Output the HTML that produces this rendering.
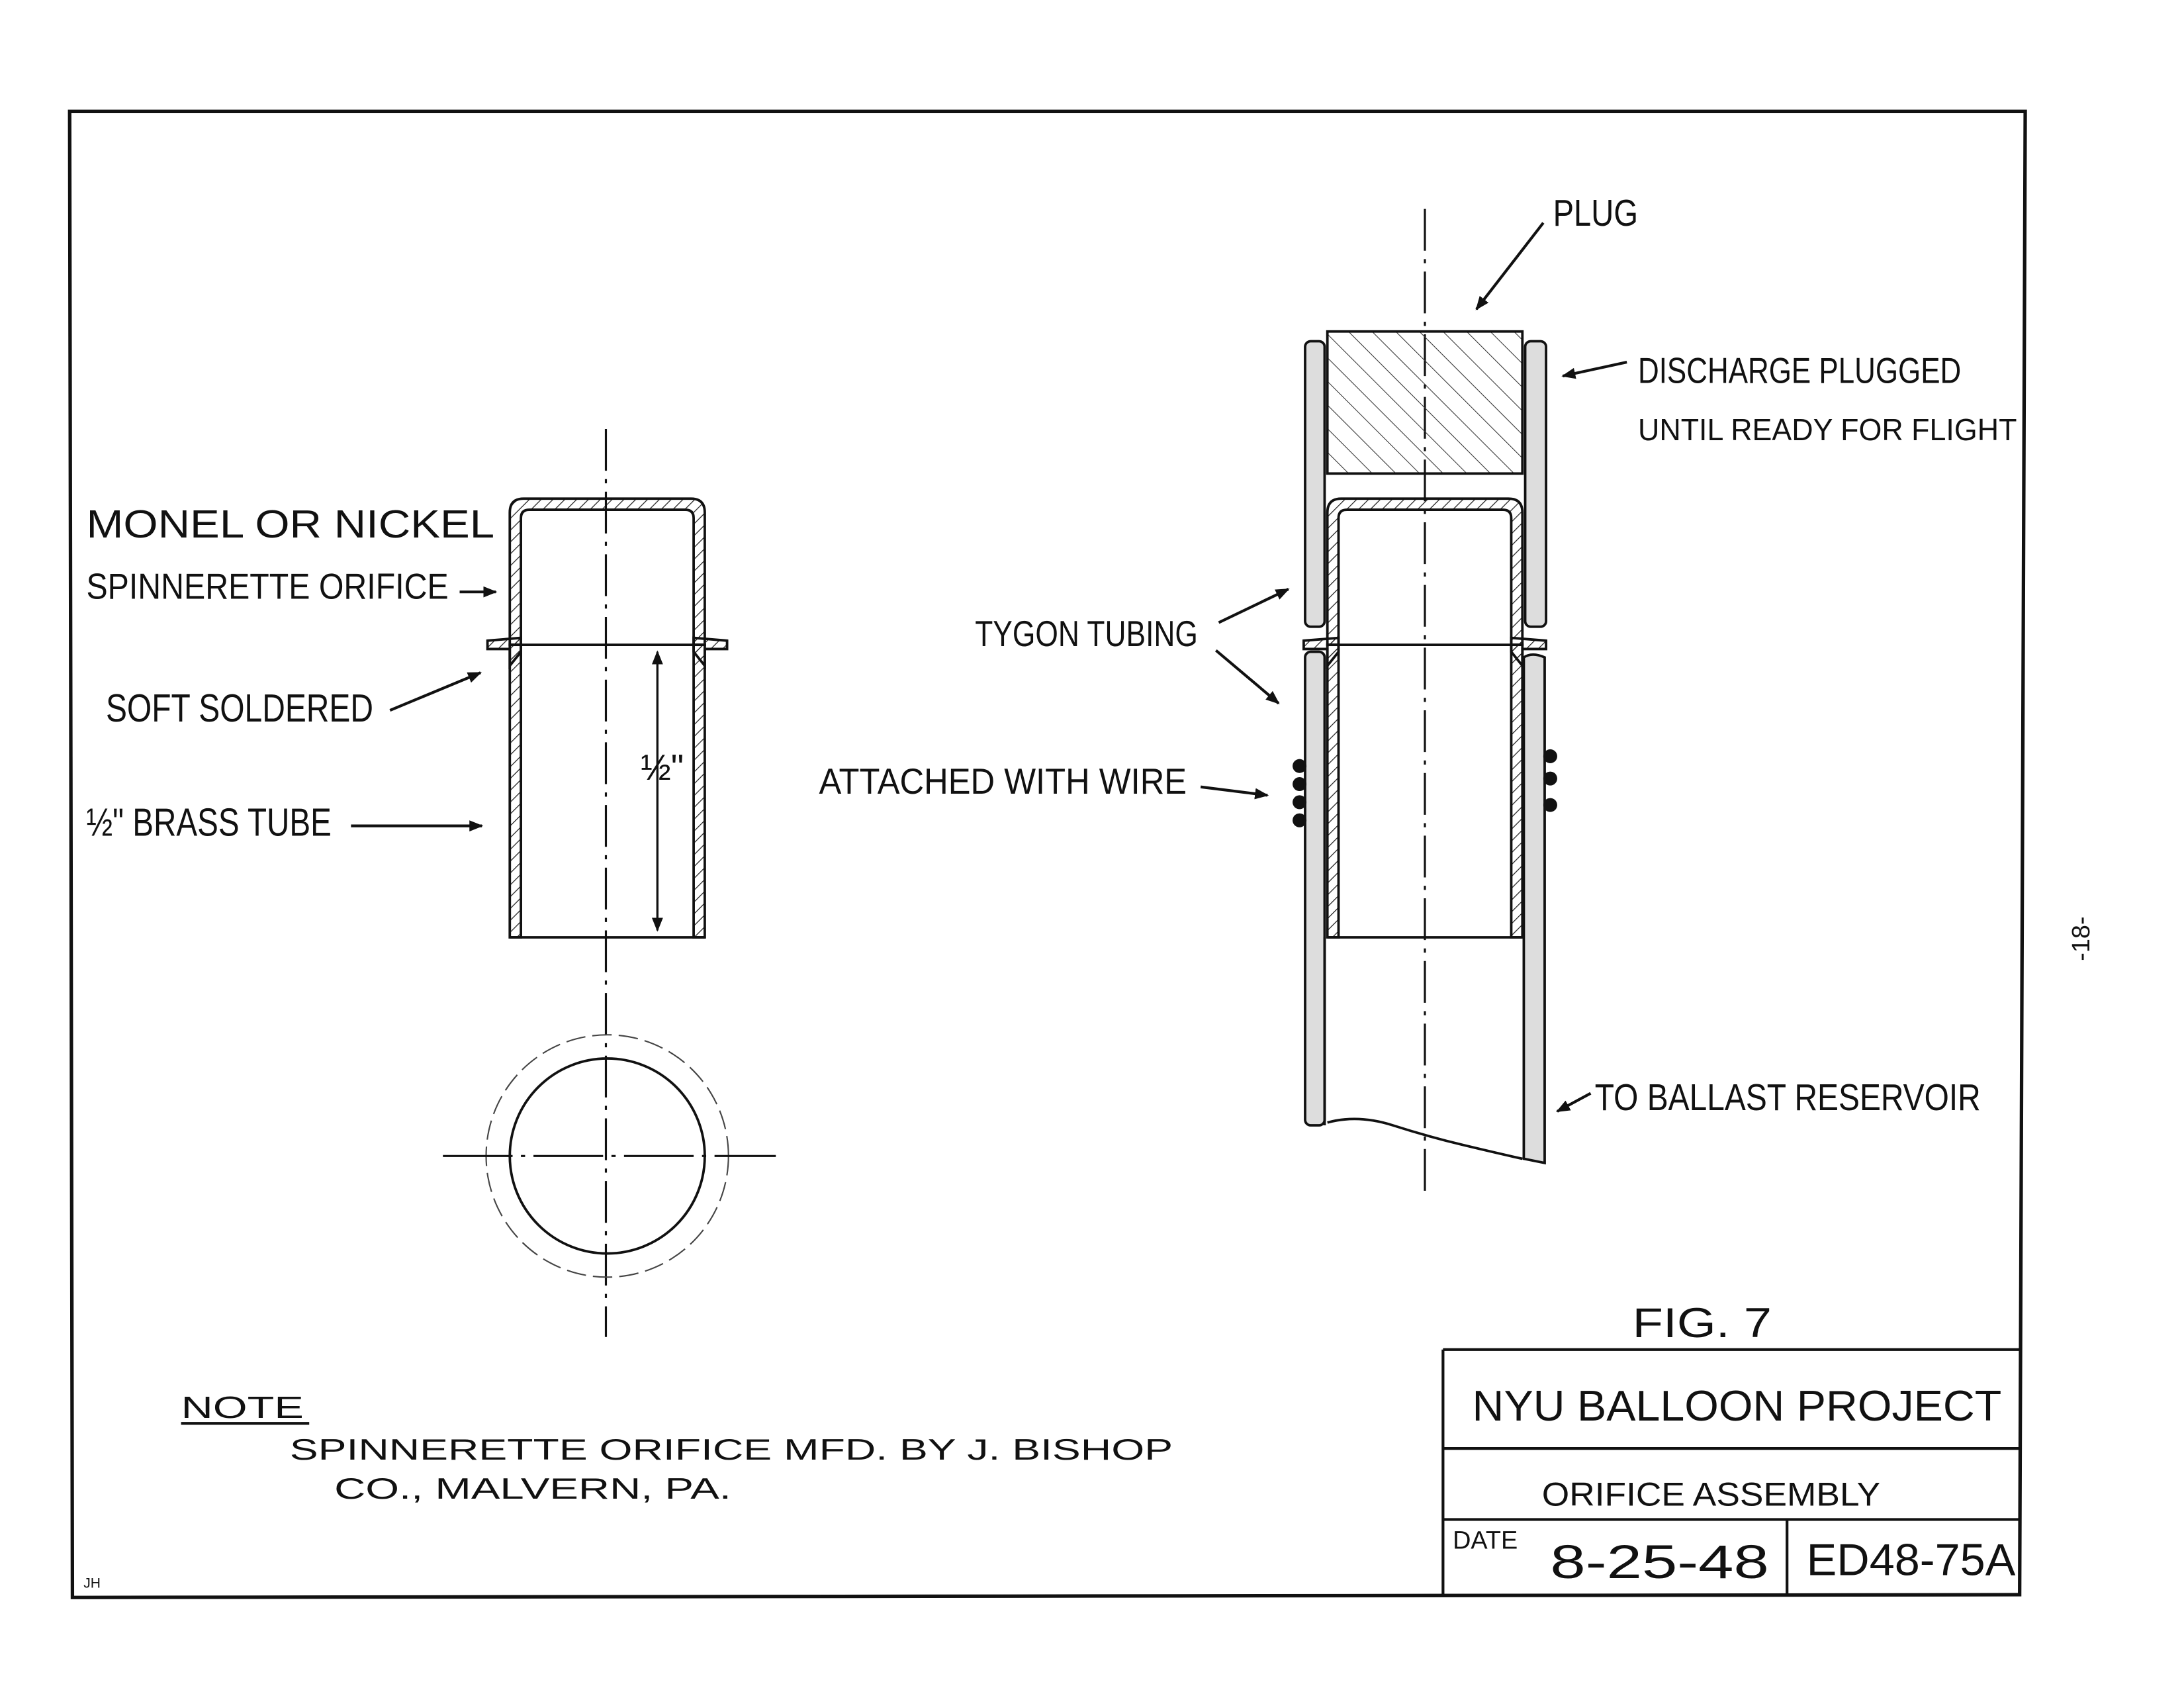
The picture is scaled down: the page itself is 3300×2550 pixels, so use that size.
<!DOCTYPE html>
<html><head><meta charset="utf-8"><style>
html,body{margin:0;padding:0;background:#fff;}
svg{display:block;}
text{font-family:"Liberation Sans",sans-serif;fill:#111;}
</style></head><body>
<svg width="3300" height="2550" viewBox="0 0 1568 1212" preserveAspectRatio="none" xmlns="http://www.w3.org/2000/svg">
<defs>
<pattern id="h" width="6" height="6" patternUnits="userSpaceOnUse" patternTransform="rotate(45)">
<line x1="0" y1="0" x2="0" y2="6" stroke="#222" stroke-width="1.2"/></pattern>
<pattern id="h2" width="12" height="12" patternUnits="userSpaceOnUse" patternTransform="rotate(-45)">
<line x1="0" y1="0" x2="0" y2="12" stroke="#333" stroke-width="1"/></pattern>
<marker id="a" markerWidth="10" markerHeight="8" refX="9" refY="4" orient="auto" markerUnits="userSpaceOnUse">
<path d="M0,0 L10,4 L0,8 z" fill="#111"/></marker>
</defs>
<rect width="1568" height="1212" fill="#fff"/>
<path d="M50,80 L1454,80 L1450,1145 L52,1147 Z" fill="none" stroke="#111" stroke-width="2.5"/>
<g stroke="#111" stroke-width="2" fill="none">
<path d="M1036,969 L1450,969 M1036,969 L1036,1145 M1036,1040 L1450,1040 M1036,1091 L1450,1091 M1283,1091 L1283,1145"/>
</g>
<g>
<text x="1172" y="960" font-size="30" textLength="100" lengthAdjust="spacingAndGlyphs">FIG. 7</text>
<text x="1057" y="1020" font-size="31" textLength="380" lengthAdjust="spacingAndGlyphs">NYU BALLOON PROJECT</text>
<text x="1107" y="1081" font-size="24" textLength="243" lengthAdjust="spacingAndGlyphs">ORIFICE ASSEMBLY</text>
<text x="1043" y="1112" font-size="18">DATE</text>
<text x="1113" y="1133" font-size="34" textLength="157" lengthAdjust="spacingAndGlyphs">8-25-48</text>
<text x="1297" y="1131" font-size="32" textLength="150" lengthAdjust="spacingAndGlyphs">ED48-75A</text>
<text x="1500" y="690" font-size="18" transform="rotate(-90 1500 690)">-18-</text>
<text x="60" y="1140" font-size="10">JH</text>

<text x="130" y="1018" font-size="22" textLength="88" lengthAdjust="spacingAndGlyphs">NOTE</text>
<line x1="130" y1="1022" x2="222" y2="1022" stroke="#111" stroke-width="2"/>
<text x="208" y="1048" font-size="21" textLength="634" lengthAdjust="spacingAndGlyphs">SPINNERETTE ORIFICE MFD. BY J. BISHOP</text>
<text x="240" y="1076" font-size="21" textLength="285" lengthAdjust="spacingAndGlyphs">CO., MALVERN, PA.</text>

<text x="62" y="386" font-size="28" textLength="293" lengthAdjust="spacingAndGlyphs">MONEL OR NICKEL</text>
<text x="62" y="430" font-size="26" textLength="260" lengthAdjust="spacingAndGlyphs">SPINNERETTE ORIFICE</text>
<text x="76" y="518" font-size="28" textLength="192" lengthAdjust="spacingAndGlyphs">SOFT SOLDERED</text>
<text x="62" y="600" font-size="28" textLength="176" lengthAdjust="spacingAndGlyphs">½" BRASS TUBE</text>
<text x="700" y="464" font-size="26" textLength="160" lengthAdjust="spacingAndGlyphs">TYGON TUBING</text>
<text x="588" y="570" font-size="26" textLength="264" lengthAdjust="spacingAndGlyphs">ATTACHED WITH WIRE</text>
<text x="1115" y="162" font-size="27" textLength="61" lengthAdjust="spacingAndGlyphs">PLUG</text>
<text x="1176" y="275" font-size="26" textLength="232" lengthAdjust="spacingAndGlyphs">DISCHARGE PLUGGED</text>
<text x="1176" y="316" font-size="22" textLength="272" lengthAdjust="spacingAndGlyphs">UNTIL READY FOR FLIGHT</text>
<text x="1145" y="797" font-size="27" textLength="277" lengthAdjust="spacingAndGlyphs">TO BALLAST RESERVOIR</text>
<text x="460" y="560" font-size="26">½"</text>
</g>

<line x1="330" y1="425" x2="356" y2="425" stroke="#111" stroke-width="2" marker-end="url(#a)"/>
<line x1="280" y1="510" x2="345" y2="483" stroke="#111" stroke-width="2" marker-end="url(#a)"/>
<line x1="252" y1="593" x2="346" y2="593" stroke="#111" stroke-width="2" marker-end="url(#a)"/>

<g stroke="#111" stroke-width="1.8">
<path d="M366,463 L366,368 Q366,358 376,358 L496,358 Q506,358 506,368 L506,463 L498,463 L498,372 Q498,366 492,366 L380,366 Q374,366 374,372 L374,463 Z" fill="url(#h)"/>
<rect x="366" y="463" width="8" height="210" fill="url(#h)"/>
<rect x="498" y="463" width="8" height="210" fill="url(#h)"/>
<path d="M350,460 L374,458 L374,468 L366,478 L366,466 L350,466 Z" fill="url(#h)"/>
<path d="M522,460 L498,458 L498,468 L506,478 L506,466 L522,466 Z" fill="url(#h)"/>
<line x1="366" y1="463" x2="506" y2="463"/>
<line x1="366" y1="673" x2="506" y2="673"/>
</g>
<line x1="435" y1="308" x2="435" y2="960" stroke="#111" stroke-width="1.5" stroke-dasharray="30,6,3,6"/>
<line x1="472" y1="470" x2="472" y2="668" stroke="#111" stroke-width="1.5" marker-end="url(#a)"/>
<line x1="472" y1="668" x2="472" y2="468" stroke="#111" stroke-width="1.5" marker-end="url(#a)"/>
<circle cx="436" cy="830" r="70" fill="none" stroke="#111" stroke-width="1.8"/>
<circle cx="436" cy="830" r="87" fill="none" stroke="#444" stroke-width="1" stroke-dasharray="14,5"/>
<line x1="318" y1="830" x2="557" y2="830" stroke="#111" stroke-width="1.5" stroke-dasharray="50,6,3,6"/>

<line x1="1023" y1="150" x2="1023" y2="855" stroke="#111" stroke-width="1.5" stroke-dasharray="30,6,3,6"/>
<line x1="1108" y1="160" x2="1060" y2="222" stroke="#111" stroke-width="2" marker-end="url(#a)"/>
<line x1="1168" y1="260" x2="1122" y2="270" stroke="#111" stroke-width="2" marker-end="url(#a)"/>
<line x1="875" y1="447" x2="925" y2="423" stroke="#111" stroke-width="2" marker-end="url(#a)"/>
<line x1="873" y1="467" x2="918" y2="505" stroke="#111" stroke-width="2" marker-end="url(#a)"/>
<line x1="862" y1="565" x2="910" y2="571" stroke="#111" stroke-width="2" marker-end="url(#a)"/>
<line x1="1142" y1="785" x2="1118" y2="798" stroke="#111" stroke-width="2" marker-end="url(#a)"/>

<g stroke="#111" stroke-width="1.8">
<rect x="953" y="238" width="140" height="102" fill="url(#h2)"/>
<rect x="937" y="245" width="14" height="205" rx="4" fill="#ddd"/>
<rect x="1095" y="245" width="15" height="205" rx="4" fill="#ddd"/>
<rect x="937" y="468" width="14" height="340" rx="4" fill="#ddd"/>
<path d="M1094,472 Q1100,468 1109,472 L1109,835 L1094,832 Z" fill="#ddd"/>
<path d="M953,463 L953,368 Q953,358 963,358 L1083,358 Q1093,358 1093,368 L1093,463 L1085,463 L1085,372 Q1085,366 1079,366 L967,366 Q961,366 961,372 L961,463 Z" fill="url(#h)"/>
<rect x="953" y="463" width="8" height="210" fill="url(#h)"/>
<rect x="1085" y="463" width="8" height="210" fill="url(#h)"/>
<path d="M936,460 L961,458 L961,468 L953,478 L953,466 L936,466 Z" fill="url(#h)"/>
<path d="M1110,460 L1085,458 L1085,468 L1093,478 L1093,466 L1110,466 Z" fill="url(#h)"/>
<line x1="953" y1="463" x2="1093" y2="463"/>
<line x1="953" y1="673" x2="1093" y2="673"/>
<line x1="951" y1="673" x2="951" y2="808"/>
<path d="M953,806 Q975,800 1000,808 T1050,822 T1093,832" fill="none"/>
</g>
<g fill="#111">
<circle cx="933" cy="550" r="5"/><circle cx="933" cy="563" r="5"/><circle cx="933" cy="576" r="5"/><circle cx="933" cy="589" r="5"/>
<circle cx="1113" cy="543" r="5"/><circle cx="1113" cy="559" r="5"/><circle cx="1113" cy="578" r="5"/>
</g>
</svg>
</body></html>
